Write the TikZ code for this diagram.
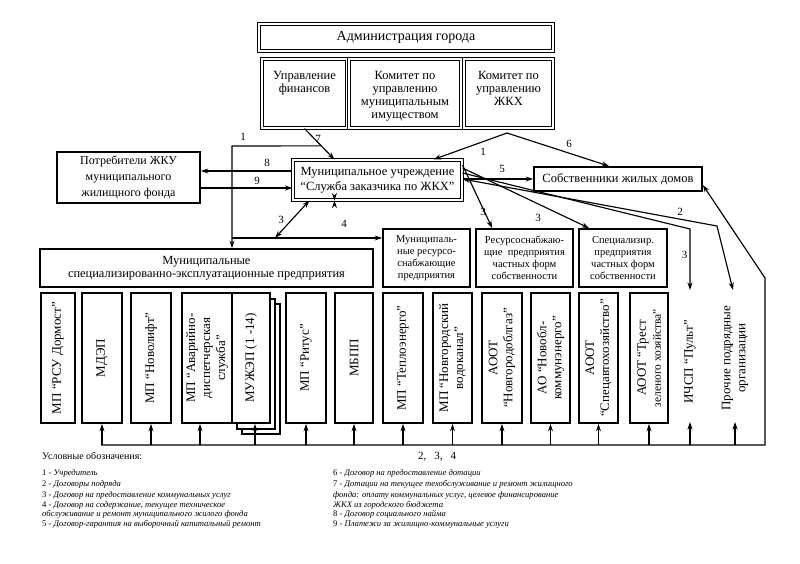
\documentclass[tikz,border=0pt]{standalone}
\usepackage{fontspec}
\setmainfont{Liberation Serif}
\usetikzlibrary{arrows.meta,calc}
\begin{document}
\begin{tikzpicture}[x=1pt,y=-1pt,
  conn/.style={line width=1.15pt},
  arr/.style={conn,-{Stealth[length=7.5pt,width=5pt]}},
  darr/.style={conn,{Stealth[length=7.5pt,width=5pt]}-{Stealth[length=7.5pt,width=5pt]}},
  dbox/.style={draw, double, double distance=1.1pt, line width=1.1pt, fill=white, inner sep=1pt, align=center},
  sbox/.style={draw, line width=1.7pt, fill=white, inner sep=1pt, align=center},
  vbox/.style={sbox, rotate=90, minimum width=130pt, font=\fontsize{13}{15}\selectfont},
  vtxt/.style={rotate=90, align=center, inner sep=1pt, font=\fontsize{13}{15}\selectfont},
  lab/.style={font=\fontsize{11}{12}\selectfont, inner sep=0pt},
  leg/.style={anchor=west, inner sep=0pt, font=\fontsize{8.6}{10}\selectfont},
  shadowbox/.style={draw, line width=1.2pt, fill=white}
]
\useasboundingbox (0,0) rectangle (800,563);
\fill[white] (0,0) rectangle (800,563);

% top
\node[dbox, minimum width=294pt, minimum height=27pt, font=\fontsize{14}{16}\selectfont] (adm) at (406,37.5) {Администрация города};
\node[dbox, minimum width=85pt, minimum height=69pt, inner sep=0pt, font=\fontsize{12.5}{13}\selectfont] (uf) at (304.5,93.5)
  {\parbox[c][45pt][t]{82pt}{\centering Управление\\финансов}};
\node[dbox, minimum width=112pt, minimum height=69pt, inner sep=0pt, font=\fontsize{12.5}{13}\selectfont] (kumi) at (405,93.5)
  {\parbox[c][45pt][t]{108pt}{\centering Комитет по\\управлению\\муниципальным\\имуществом}};
\node[dbox, minimum width=89pt, minimum height=69pt, inner sep=0pt, font=\fontsize{12.5}{13}\selectfont] (kzh) at (508.5,93.5)
  {\parbox[c][45pt][t]{86pt}{\centering Комитет по\\управлению\\ЖКХ}};

\node[sbox, minimum width=143pt, minimum height=51pt, font=\fontsize{12}{16}\selectfont] (potr) at (128.5,177.5)
  {Потребители ЖКУ\\муниципального\\жилищного фонда};
\node[dbox, minimum width=169pt, minimum height=40pt, font=\fontsize{12.5}{15}\selectfont] (mu) at (377.5,180)
  {Муниципальное учреждение\\“Служба заказчика по ЖКХ”};
\node[sbox, minimum width=168pt, minimum height=24pt, font=\fontsize{12.5}{15}\selectfont] (sob) at (618,179)
  {Собственники жилых домов};

% middle row
\node[sbox, minimum width=333pt, minimum height=38pt, font=\fontsize{12.4}{13}\selectfont] (msep) at (206.5,268)
  {Муниципальные\\специализированно-эксплуатационные предприятия};
\node[sbox, minimum width=87pt, minimum height=58pt, font=\fontsize{10.5}{12}\selectfont] (mrs) at (426.5,258)
  {Муниципаль-\\ные ресурсо-\\снабжающие\\предприятия};
\node[sbox, minimum width=97pt, minimum height=58pt, font=\fontsize{10.5}{12}\selectfont] (rsc) at (524.5,258)
  {Ресурсоснабжаю-\\щие \ предприятия\\частных форм\\собственности};
\node[sbox, minimum width=88pt, minimum height=58pt, font=\fontsize{10.5}{12}\selectfont] (spc) at (623,258)
  {Специализир.\\предприятия\\частных форм\\собственности};

% bottom row (rotated boxes: west anchor = bottom on the page)
\node[vbox, minimum height=34pt] (b1) at (58,358) {МП “РСУ Дормост”};
\node[vbox, minimum height=40pt] (b2) at (102,358) {МДЭП};
\node[vbox, minimum height=40pt] (b3) at (151,358) {МП “Новолифт”};
\node[vbox, minimum height=50pt] (b4) at (207,358) {МП “Аварийно-\\диспетчерская\\служба”};
\draw[shadowbox] (242,304) rectangle (280,434);
\draw[shadowbox] (237,299) rectangle (275,429);
\node[vbox, minimum height=38pt] (b5) at (251,358) {МУЖЭП (1 -14)};
\node[vbox, minimum height=40pt] (b6) at (306,358) {МП “Ритус”};
\node[vbox, minimum height=38pt] (b7) at (354,358) {МБПП};
\node[vbox, minimum height=40pt] (b8) at (403,358) {МП “Теплоэнерго”};
\node[vbox, minimum height=39pt] (b9) at (452.5,358) {МП “Новгородский\\водоканал”};
\node[vbox, minimum height=40pt] (b10) at (502,358) {АООТ\\“Новгородоблгаз”};
\node[vbox, minimum height=39pt] (b11) at (550.5,358) {АО “Новобл-\\коммунэнерго”};
\node[vbox, minimum height=39pt] (b12) at (598.5,358) {АООТ\\“Спецавтохозяйство”};
\node[vbox, minimum height=38pt] (b13) at (649,358) {АООТ “Трест\\{\fontsize{11.5}{13}\selectfont зеленого хозяйства”}};
\node[vtxt] (b14) at (690,362) {ИЧСП “Пульт”};
\node[vtxt] (b15) at (735,358) {Прочие подрядные\\организации};

% coordinates
\coordinate (v) at (507,133);
\coordinate (L) at (232,146);
\coordinate (J) at (232,238);
\coordinate (y171) at (0,171);
\coordinate (y188) at (0,188);
\coordinate (busL) at (101,445);
\coordinate (busR) at (765,445);
\coordinate (busT) at (765,278);
\coordinate (ybot) at (0,422);
\coordinate (t2) at (733,290);
\coordinate (k2) at (717,226);
\coordinate (t3) at (690,290);
\coordinate (k3) at (690,229);

% connectors
\draw[arr] (uf.south) -- ($(mu.north west)+(42,0)$) node[lab] at (318,139) {7};
\path (uf.south) -- ($(mu.north west)+(42,0)$) coordinate[pos=0.56] (c1);
\draw[arr] (c1) -- (L) -- (L |- msep.north) node[lab] at (243,137) {1};
\draw[arr] (J) -- (J -| mrs.west);
\draw[darr] ($(mu.south west)+(17,0)$) -- ($(J)+(43,0)$) node[lab] at (281,220) {3};
\draw[darr] ($(mu.south west)+(42,0)$) -- ($(mu.south west)+(42,0)$ |- J) node[lab] at (344,224) {4};
\draw[arr] (mu.west |- y171) -- (potr.east |- y171) node[lab] at (267,163) {8};
\draw[arr] (potr.east |- y188) -- (mu.west |- y188) node[lab] at (257,181) {9};
\draw[arr] (mu.east |- sob.west) -- (sob.west) node[lab] at (502,169) {5};
\draw[arr] (v) -- ($(mu.north east)+(-29,0)$) node[lab] at (483,152) {1};
\draw[arr] (v) -- ($(sob.north west)+(76,0)$) node[lab] at (569,144) {6};
\draw[arr] ($(mu.east)+(0,-15)$) -- ($(rsc.north west)+(17,0)$) node[lab] at (483,212) {3};
\draw[arr] ($(mu.east)+(0,-12)$) -- ($(spc.north west)+(11,0)$) node[lab] at (538,218) {3};
\draw[darr] ($(mu.east)+(0,-1)$) -- (k2) -- (t2) node[lab] at (680,212) {2};
\draw[arr] ($(mu.east)+(0,-7)$) -- (k3) -- (t3) node[lab, anchor=east] at (688,255) {3};

% bottom bus
\draw[arr] (busL) -- (busR) -- (busT) -- ([yshift=-6pt]sob.east);
\foreach \b in {b2,b3,b6,b7,b8,b9,b10,b11,b12,b13}
  \draw[arr] (\b.west |- busL) -- (\b.west);
\draw[arr] ([xshift=-7pt]b4.west |- busL) -- ([xshift=-7pt]b4.west);
\draw[arr] ([xshift=4pt]b5.west |- busL) -- ([xshift=4pt]b5.west);
\draw[arr] (b14 |- busL) -- (b14 |- ybot);
\draw[arr] (b15 |- busL) -- (b15 |- ybot);
\node[font=\fontsize{11}{12}\selectfont, inner sep=0pt] (bl) at (437,457) {2,\hspace{8pt}3,\hspace{8pt}4};

% legend
\node[leg, font=\fontsize{10}{11}\selectfont] (lt) at (42,456) {Условные обозначения:};
\node[leg] (l1) at (42,473) {1 - \textit{Учредитель}};
\node[leg] (l2) at (42,484) {2 - \textit{Договоры подряда}};
\node[leg] (l3) at (42,495) {3 - \textit{Договор на предоставление коммунальных услуг}};
\node[leg] (l4) at (42,505) {4 - \textit{Договор на содержание, текущее техническое}};
\node[leg] (l4b) at (42,514.5) {\textit{обслуживание и ремонт муниципального жилого фонда}};
\node[leg] (l5) at (42,524.5) {5 - \textit{Договор-гарантия на выборочный капитальный ремонт}};
\node[leg] (l6) at (333,473) {6 - \textit{Договор на предоставление дотации}};
\node[leg] (l7) at (333,484) {7 - \textit{Дотации на текущее техобслуживание и ремонт жилищного}};
\node[leg] (l7b) at (333,495) {\textit{фонда: оплату коммунальных услуг, целевое финансирование}};
\node[leg] (l7c) at (333,505) {\textit{ЖКХ из городского бюджета}};
\node[leg] (l8) at (333,514.5) {8 - \textit{Договор социального найма}};
\node[leg] (l9) at (333,524.5) {9 - \textit{Платежи за жилищно-коммунальные услуги}};
\end{tikzpicture}
\end{document}
